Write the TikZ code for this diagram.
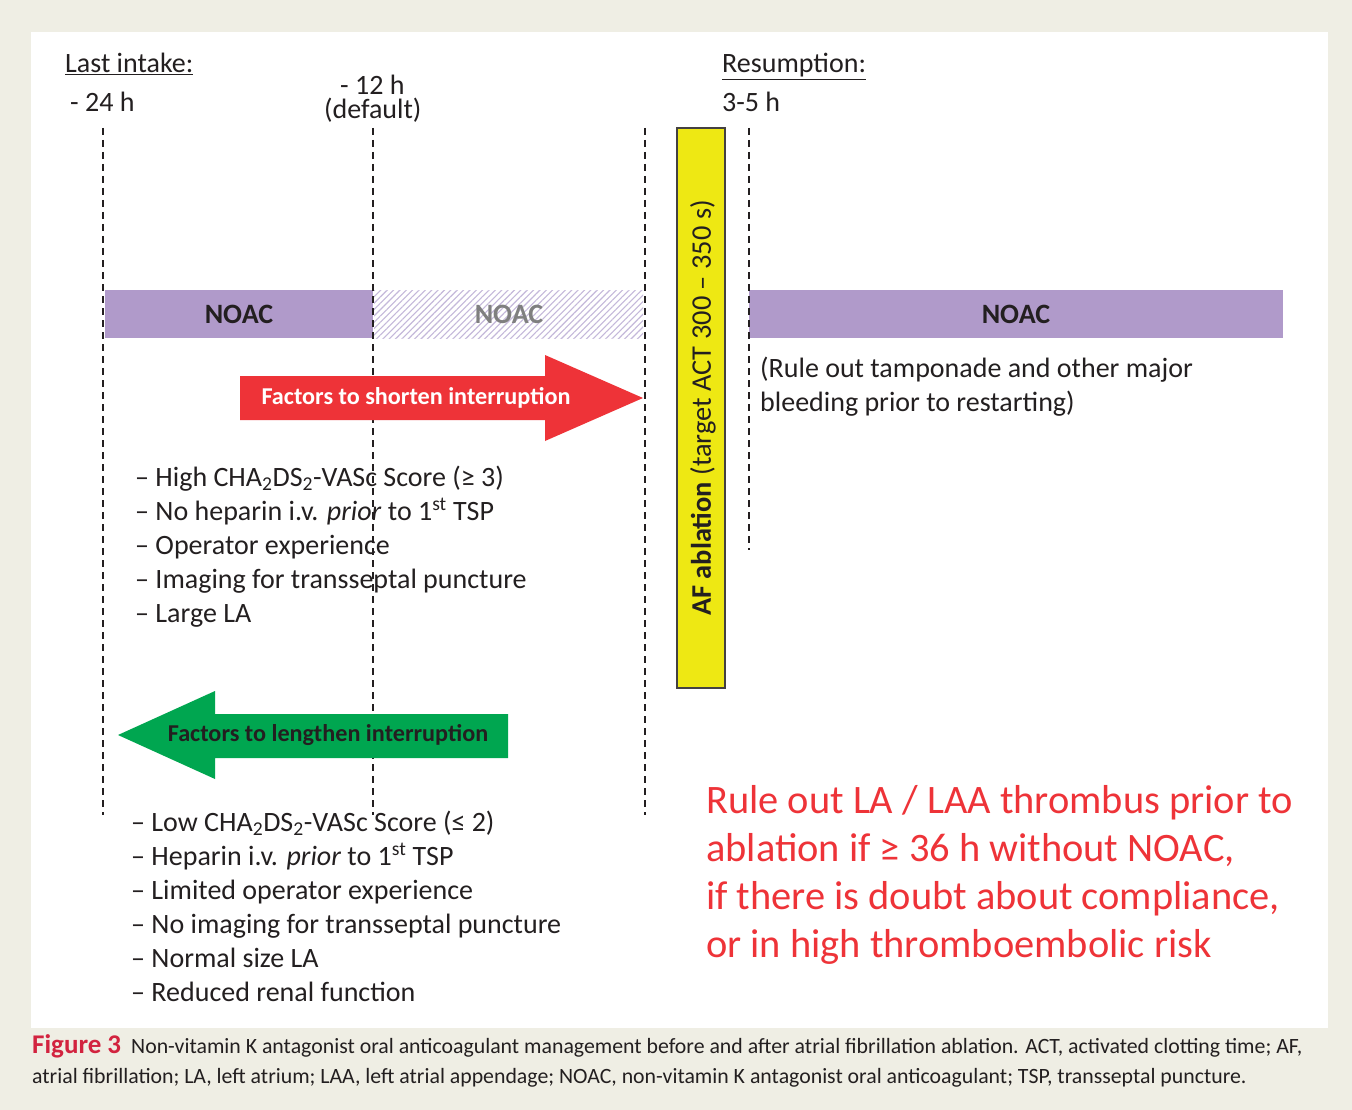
\documentclass[tikz,border=0pt]{standalone}
\usepackage{fontspec}
\setmainfont{Carlito}
\usetikzlibrary{patterns.meta}
\definecolor{bgbeige}{HTML}{EFEEE4}
\definecolor{noac}{HTML}{B09ACA}
\definecolor{hatchc}{HTML}{C4B8DA}
\definecolor{redarrow}{HTML}{EE3338}
\definecolor{greenarrow}{HTML}{00A650}
\definecolor{ablyellow}{HTML}{EEE813}
\definecolor{figred}{HTML}{D2233F}
\definecolor{txt}{HTML}{231F20}
\definecolor{greytxt}{HTML}{7F7F7F}
\tikzset{
  lbl/.style={inner sep=0pt, anchor=base west, text=txt, font=\fontsize{28}{32}\selectfont},
  bul/.style={inner sep=0pt, anchor=base west, text=txt, font=\fontsize{28}{32}\selectfont},
  redtxt/.style={inner sep=0pt, anchor=base west, text=redarrow, font=\fontsize{40.4}{44}\selectfont},
  captxt/.style={inner sep=0pt, anchor=base west, text=txt, font=\fontsize{21.8}{24}\selectfont},
  noactxt/.style={inner sep=0pt, font=\bfseries\fontsize{28}{32}\selectfont},
  arrtxt/.style={inner sep=0pt, font=\bfseries\fontsize{24.2}{28}\selectfont},
  vline/.style={draw=txt, line width=1.6pt, dash pattern=on 7pt off 5pt},
}
\begin{document}
\begin{tikzpicture}[x=1pt,y=-1pt]
% background
\fill[bgbeige] (0,0) rectangle (1352,1110);
\fill[white] (31,32) rectangle (1328,1028);
\useasboundingbox (0,0) rectangle (1352,1110);

% bars
\fill[noac] (105,290) rectangle (373,338);
\fill[white] (374,290) rectangle (643,338);
\fill[pattern={Lines[angle=45,distance=4.5pt,line width=1.1pt]}, pattern color=hatchc] (374,290) rectangle (643,338);
\fill[noac] (749,290) rectangle (1283,338);
\node[noactxt, text=txt] (noac1) at (239,314) {NOAC};
\node[noactxt, text=greytxt] (noac2) at (509,314) {NOAC};
\node[noactxt, text=txt] (noac3) at (1016,314) {NOAC};

% dashed lines
\coordinate (d1t) at (103,128); \coordinate (d1b) at (103,815);
\coordinate (d2t) at (373,128); \coordinate (d2b) at (373,815);
\coordinate (d3t) at (645,128); \coordinate (d3b) at (645,815);
\coordinate (d4t) at (749,128); \coordinate (d4b) at (749,550);
\draw[vline] (d1t) -- (d1b);
\draw[vline] (d2t) -- (d2b);
\draw[vline] (d3t) -- (d3b);
\draw[vline] (d4t) -- (d4b);

% red arrow
\fill[redarrow] (240,376) -- (545,376) -- (545,355) -- (643,398) -- (545,441) -- (545,420) -- (240,420) -- cycle;
\node[arrtxt, text=white] (shorten) at (416,398) {Factors to shorten interruption};

% green arrow
\fill[greenarrow] (508,714) -- (215,714) -- (215,691) -- (118,735) -- (215,779) -- (215,758) -- (508,758) -- cycle;
\node[arrtxt, text=txt] (lengthen) at (328,735) {Factors to lengthen interruption};

% yellow ablation box
\draw[fill=ablyellow, draw=txt!85, line width=1.3pt] (677,128) rectangle (725,688);
\node[inner sep=0pt, rotate=90, text=txt, font=\fontsize{28.4}{32}\selectfont] (abl) at (703,408) {\textbf{AF ablation} (target ACT 300 – 350 s)};

% top labels
\node[lbl] (last) at (65,73) {\underline{Last intake:}};
\node[lbl] (h24) at (70,112) {- 24 h};
\node[lbl] (h12) at (340,95) {- 12 h};
\node[lbl] (def) at (324,119) {(default)};
\node[lbl] (resum) at (722,73) {\underline{Resumption:}};
\node[lbl] (h35) at (722,112) {3-5 h};

% right notes
\node[lbl] (rule1) at (760,377) {(Rule out tamponade and other major};
\node[lbl] (rule2) at (760,411) {bleeding prior to restarting)};

% upper bullet list
\node[bul] (s1) at (135,486) {– High CHA\textsubscript{2}DS\textsubscript{2}-VASc Score (≥ 3)};
\node[bul] (s2) at (135,520) {– No heparin i.v. \textit{prior} to 1\textsuperscript{st} TSP};
\node[bul] (s3) at (135,554) {– Operator experience};
\node[bul] (s4) at (135,588) {– Imaging for transseptal puncture};
\node[bul] (s5) at (135,622) {– Large LA};

% lower bullet list
\node[bul] (l1) at (131,831) {– Low CHA\textsubscript{2}DS\textsubscript{2}-VASc Score (≤ 2)};
\node[bul] (l2) at (131,865) {– Heparin i.v. \textit{prior} to 1\textsuperscript{st} TSP};
\node[bul] (l3) at (131,899) {– Limited operator experience};
\node[bul] (l4) at (131,933) {– No imaging for transseptal puncture};
\node[bul] (l5) at (131,967) {– Normal size LA};
\node[bul] (l6) at (131,1001) {– Reduced renal function};

% red note
\node[redtxt] (r1) at (706,813) {Rule out LA / LAA thrombus prior to};
\node[redtxt] (r2) at (706,861) {ablation if ≥ 36 h without NOAC,};
\node[redtxt] (r3) at (706,909) {if there is doubt about compliance,};
\node[redtxt] (r4) at (706,957) {or in high thromboembolic risk};

% caption
\node[captxt] (cap1) at (32,1053) {\textcolor{figred}{\bfseries\fontsize{27}{28}\selectfont Figure 3}\hspace{10pt}Non-vitamin K antagonist oral anticoagulant management before and after atrial fibrillation ablation. ACT, activated clotting time; AF,};
\node[captxt] (cap2) at (32,1083) {atrial fibrillation; LA, left atrium; LAA, left atrial appendage; NOAC, non-vitamin K antagonist oral anticoagulant; TSP, transseptal puncture.};
\end{tikzpicture}
\end{document}
